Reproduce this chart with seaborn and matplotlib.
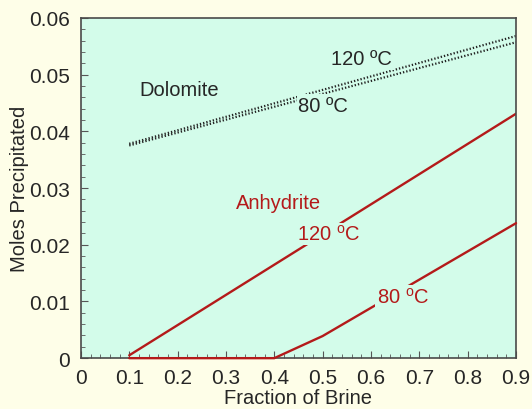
import matplotlib
matplotlib.use("Agg")
import matplotlib.pyplot as plt
import seaborn as sns
import pandas as pd
from matplotlib.ticker import MultipleLocator

# data
dolo_x = [0.1, 0.9]
dolo_120 = [0.0378, 0.0568]
dolo_80 = [0.0375, 0.0557]

anhy_120_x = [0.1, 0.9]
anhy_120 = [0.0005, 0.0431]
anhy_80_x = [0.1, 0.4, 0.5, 0.9]
anhy_80 = [0.0, 0.0, 0.0039, 0.0238]

xticks = [0, 0.1, 0.2, 0.3, 0.4, 0.5, 0.6, 0.7, 0.8, 0.9]
yticks = [0, 0.01, 0.02, 0.03, 0.04, 0.05, 0.06]

bg = "#FEFEE8"
panel = "#D3FCEA"
red = "#B41A1A"

sns.set_style("ticks")
plt.rcParams["font.family"] = ["Liberation Sans", "DejaVu Sans"]
plt.rcParams["mathtext.fontset"] = "custom"
plt.rcParams["mathtext.rm"] = "Liberation Sans"

fig = plt.figure(figsize=(5.32, 4.10), dpi=100, facecolor=bg)
ax = fig.add_axes([0.152, 0.124, 0.818, 0.830])
ax.set_facecolor(panel)

sns.lineplot(x=dolo_x, y=dolo_120, ax=ax, color="#222222", lw=1.6, ls=(0, (0.6, 0.9)))
sns.lineplot(x=dolo_x, y=dolo_80, ax=ax, color="#222222", lw=1.6, ls=(0, (0.6, 0.9)))
sns.lineplot(x=anhy_120_x, y=anhy_120, ax=ax, color=red, lw=1.7)
sns.lineplot(x=anhy_80_x, y=anhy_80, ax=ax, color=red, lw=1.7, clip_on=False, zorder=5)

ax.set_xlim(0, 0.9)
ax.set_ylim(0, 0.06)
ax.set_xticks(xticks)
ax.set_xticklabels(["0"] + [f"{v:.1f}" for v in xticks[1:]])
ax.set_yticks(yticks)
ax.set_yticklabels(["0"] + [f"{v:.2f}" for v in yticks[1:]])
ax.xaxis.set_minor_locator(MultipleLocator(0.02))
ax.yaxis.set_minor_locator(MultipleLocator(0.002))
ax.tick_params(which="both", direction="in", labelsize=15, color="#555555")
ax.tick_params(which="major", length=5, width=0.8)
ax.tick_params(which="minor", length=3, width=0.6)
ax.tick_params(axis="y", pad=8)
ax.tick_params(axis="x", pad=7)
for s in ax.spines.values():
    s.set_color("#4a4a4a")
    s.set_linewidth(1.2)

ax.set_xlabel("Fraction of Brine", fontsize=14.5, labelpad=1)
ax.set_ylabel("Moles Precipitated", fontsize=14.5, labelpad=0)

box = dict(facecolor=panel, edgecolor="none", pad=1)
ax.text(0.203, 0.0473, "Dolomite", fontsize=14.5, ha="center", va="center")
ax.text(0.581, 0.0528, "120 ºC", fontsize=14.5, ha="center", va="center", bbox=box)
ax.text(0.501, 0.0446, "80 ºC", fontsize=14.5, ha="center", va="center", bbox=box)
ax.text(0.408, 0.0275, "Anhydrite", fontsize=14.5, ha="center", va="center", color=red)
ax.text(0.513, 0.0219, "120 $^{\\rm o}$C", fontsize=14.5, ha="center", va="center", color=red, bbox=box)
ax.text(0.666, 0.0109, "80 $^{\\rm o}$C", fontsize=14.5, ha="center", va="center", color=red,
        bbox=box, zorder=6)

fig.savefig("out.png", dpi=100, facecolor=bg)
